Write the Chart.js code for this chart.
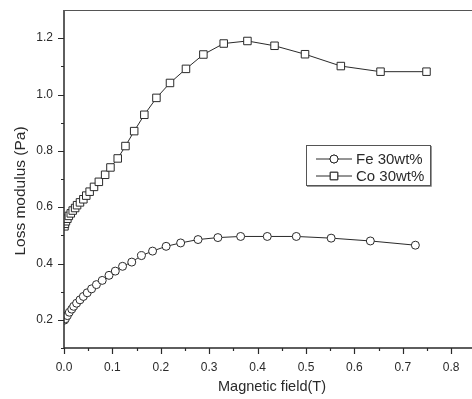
<!DOCTYPE html>
<html>
<head>
<meta charset="utf-8">
<script src="https://cdn.jsdelivr.net/npm/chart.js@4.4.0/dist/chart.umd.min.js"></script>
<style>
  body { margin: 0; background: #fff; }
  #wrap { width: 472px; height: 399px; position: relative; }
</style>
</head>
<body>
<div id="wrap"><canvas id="myChart"></canvas></div>
<script>
/* values */
const feField = [0.001, 0.003, 0.007, 0.011, 0.016, 0.020, 0.026, 0.033, 0.040, 0.048, 0.057, 0.067, 0.079, 0.093, 0.106, 0.121, 0.140, 0.160, 0.183, 0.211, 0.241, 0.277, 0.318, 0.365, 0.420, 0.480, 0.552, 0.633, 0.726];
const feLoss  = [0.199, 0.204, 0.215, 0.227, 0.238, 0.248, 0.259, 0.271, 0.283, 0.296, 0.310, 0.325, 0.340, 0.358, 0.373, 0.390, 0.405, 0.428, 0.444, 0.461, 0.473, 0.485, 0.492, 0.496, 0.496, 0.496, 0.490, 0.480, 0.465];
const coField = [0.001, 0.002, 0.004, 0.007, 0.010, 0.014, 0.018, 0.023, 0.027, 0.033, 0.040, 0.046, 0.053, 0.062, 0.072, 0.085, 0.096, 0.111, 0.127, 0.145, 0.166, 0.191, 0.219, 0.252, 0.288, 0.330, 0.379, 0.435, 0.498, 0.572, 0.654, 0.749];
const coLoss  = [0.532, 0.541, 0.550, 0.559, 0.569, 0.578, 0.588, 0.597, 0.607, 0.617, 0.628, 0.641, 0.655, 0.672, 0.690, 0.715, 0.741, 0.773, 0.817, 0.870, 0.928, 0.988, 1.041, 1.091, 1.142, 1.181, 1.190, 1.173, 1.143, 1.101, 1.081, 1.081];
const seriesNames = ['Fe 30wt%', 'Co 30wt%'];
const xTicks = [0, 0.1, 0.2, 0.3, 0.4, 0.5, 0.6, 0.7, 0.8];
const yTicks = [0.2, 0.4, 0.6, 0.8, 1.0, 1.2];
const xTitle = 'Magnetic field(T)';
const yTitle = 'Loss modulus (Pa)';

const ink = '#2a2a2a';
const toPts = (xs, ys) => xs.map((x, i) => ({ x: x, y: ys[i] }));

// axes, minor ticks, titles and the boxed legend
const framePlugin = {
  id: 'frame',
  afterDraw(chart) {
    const ctx = chart.ctx, a = chart.chartArea;
    const xs = chart.scales.x, ys = chart.scales.y;
    const edge = chart.width;
    ctx.save();
    ctx.strokeStyle = ink;
    ctx.lineWidth = 1.5;
    ctx.beginPath();
    ctx.moveTo(a.left, a.top); ctx.lineTo(a.left, a.bottom); ctx.lineTo(edge, a.bottom);
    ctx.stroke();
    ctx.lineWidth = 1;
    ctx.strokeStyle = '#555';
    ctx.beginPath();
    ctx.moveTo(a.left, a.top + 0.5); ctx.lineTo(edge, a.top + 0.5);
    ctx.stroke();
    // tick marks
    ctx.strokeStyle = ink;
    ctx.lineWidth = 1.2;
    ctx.beginPath();
    for (let i = 0; i <= 16; i++) {
      const v = i * 0.05;
      const px = Math.round(xs.getPixelForValue(v)) + 0.5;
      const len = i % 2 === 0 ? 6 : 3;
      ctx.moveTo(px, a.bottom); ctx.lineTo(px, a.bottom + len);
    }
    for (let i = 1; i <= 12; i++) {
      const v = i * 0.1;
      const py = Math.round(ys.getPixelForValue(v)) + 0.5;
      const len = i % 2 === 0 ? 6 : 3;
      ctx.moveTo(a.left, py); ctx.lineTo(a.left - len, py);
    }
    ctx.stroke();
    // axis titles
    ctx.fillStyle = ink;
    ctx.textAlign = 'center';
    ctx.textBaseline = 'middle';
    ctx.font = '14.5px "Liberation Sans", Arial, sans-serif';
    ctx.fillText(xTitle, 272, 387);
    ctx.save();
    ctx.translate(21, 191);
    ctx.rotate(-Math.PI / 2);
    ctx.font = '15.5px "Liberation Sans", Arial, sans-serif';
    ctx.fillText(yTitle, 0, 0);
    ctx.restore();
    // legend
    ctx.strokeStyle = '#555';
    ctx.lineWidth = 1;
    ctx.strokeRect(306.5, 145.5, 124, 40);
    ctx.beginPath();
    ctx.moveTo(307, 186.5); ctx.lineTo(431.5, 186.5); ctx.lineTo(431.5, 146);
    ctx.strokeStyle = '#999';
    ctx.stroke();
    const rows = [159, 176];
    chart.data.datasets.forEach((ds, i) => {
      const y = rows[i];
      ctx.strokeStyle = ink;
      ctx.lineWidth = 1;
      ctx.beginPath();
      ctx.moveTo(316, y); ctx.lineTo(352, y);
      ctx.stroke();
      ctx.fillStyle = '#fff';
      Chart.helpers.drawPoint(ctx, {
        pointStyle: ds.pointStyle, radius: ds.pointRadius, borderWidth: 1, rotation: 0
      }, 334, y);
      ctx.fill();
      ctx.stroke();
      ctx.fillStyle = ink;
      ctx.textAlign = 'left';
      ctx.font = '15px "Liberation Sans", Arial, sans-serif';
      ctx.fillText(seriesNames[i], 356, y + 1);
    });
    ctx.restore();
  }
};

const ctxMain = document.getElementById('myChart').getContext('2d');
const myChart = new Chart(ctxMain, {
  type: 'line',
  data: {
    datasets: [{
      label: seriesNames[0],
      data: toPts(feField, feLoss),
      borderColor: ink,
      borderWidth: 1,
      pointStyle: 'circle',
      pointRadius: 4,
      pointBorderWidth: 1,
      pointBorderColor: ink,
      pointBackgroundColor: '#fff',
      tension: 0
    }, {
      label: seriesNames[1],
      data: toPts(coField, coLoss),
      borderColor: ink,
      borderWidth: 1,
      pointStyle: 'rect',
      pointRadius: 5.3,
      pointBorderWidth: 1,
      pointBorderColor: ink,
      pointBackgroundColor: '#fff',
      tension: 0
    }]
  },
  options: {
    responsive: true,
    maintainAspectRatio: false,
    animation: false,
    layout: { padding: { top: 10, right: 0, left: 0, bottom: 0 } },
    plugins: { legend: { display: false }, tooltip: { enabled: false } },
    scales: {
      x: {
        type: 'linear',
        min: 0,
        max: 0.83,
        grid: { display: false, drawTicks: false },
        border: { display: false },
        afterBuildTicks: s => { s.ticks = xTicks.map(v => ({ value: v })); },
        afterFit: s => { s.height = 51; s.paddingLeft = 0; s.paddingRight = 0; },
        ticks: {
          padding: 12,
          maxRotation: 0,
          color: ink,
          font: { family: '"Liberation Sans", Arial, sans-serif', size: 12 },
          callback: v => v.toFixed(1)
        }
      },
      y: {
        min: 0.1,
        max: 1.3,
        grid: { display: false, drawTicks: false },
        border: { display: false },
        afterBuildTicks: s => { s.ticks = yTicks.map(v => ({ value: v })); },
        afterFit: s => { s.width = 64; s.paddingTop = 0; s.paddingBottom = 0; },
        ticks: {
          padding: 11,
          color: ink,
          font: { family: '"Liberation Sans", Arial, sans-serif', size: 12 },
          callback: v => v.toFixed(1)
        }
      }
    }
  },
  plugins: [framePlugin]
});
</script>
</body>
</html>
